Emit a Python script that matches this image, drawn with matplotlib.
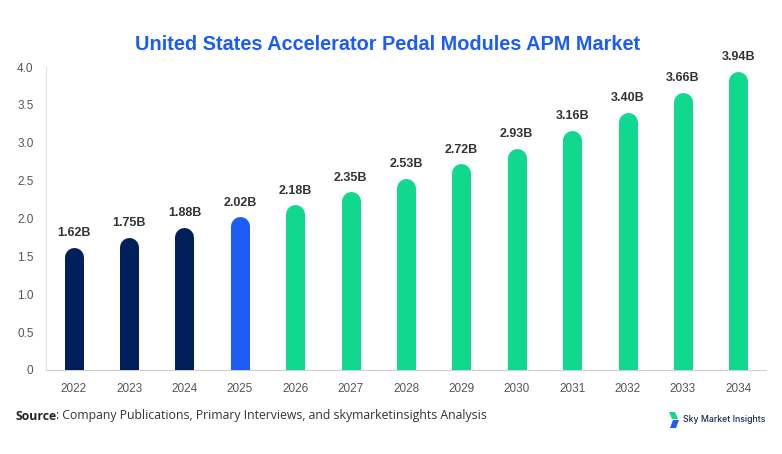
import matplotlib
matplotlib.use("Agg")
import matplotlib.pyplot as plt
from matplotlib.patches import Polygon

years = ["2022", "2023", "2024", "2025", "2026", "2027", "2028",
         "2029", "2030", "2031", "2032", "2033", "2034"]
values = [1.62, 1.75, 1.88, 2.02, 2.18, 2.35, 2.53, 2.72, 2.93, 3.16, 3.40, 3.66, 3.94]
kinds = ["hist", "hist", "hist", "base", "fc", "fc", "fc", "fc", "fc", "fc", "fc", "fc", "fc"]
yticks = [0, 0.5, 1.0, 1.5, 2.0, 2.5, 3.0, 3.5, 4.0]
ytick_labels = ["0", "0.5", "1.0", "1.5", "2.0", "2.5", "3.0", "3.5", "4.0"]

colors = {"hist": "#001f5b", "base": "#1f5cf6", "fc": "#11d88f"}

plt.rcParams["font.family"] = ["Liberation Sans", "DejaVu Sans"]

fig = plt.figure(figsize=(7.82, 4.54), dpi=100)
ax = fig.add_axes([46 / 782, 84 / 454, 720 / 782, 303 / 454])

ax.set_xlim(-0.5, len(years) - 0.5)
ax.set_ylim(0, 4.0)

bar_px = 19
bar_pt = bar_px * 72 / 100
# radius of the round cap in data units
px_per_unit = 303 / 4.0
r = (bar_px / 2) / px_per_unit

for i, (v, k) in enumerate(zip(values, kinds)):
    ax.plot([i, i], [-1, v - r], color=colors[k], linewidth=bar_pt,
            solid_capstyle="round", zorder=3)
    ax.annotate(f"{v:.2f}B", (i, v), xytext=(0, 6), textcoords="offset points",
                ha="center", va="bottom", fontsize=9, fontweight="bold",
                color="#333333")

ax.set_xticks(range(len(years)))
ax.set_xticklabels(years)
ax.set_yticks(yticks)
ax.set_yticklabels(ytick_labels)
ax.tick_params(axis="both", length=0, labelsize=8.5, labelcolor="#555555")
ax.tick_params(axis="x", pad=9)
ax.tick_params(axis="y", pad=9)

for s in ["top", "right"]:
    ax.spines[s].set_visible(False)
ax.spines["left"].set_color("#e3e3e3")
ax.spines["bottom"].set_color("#d0d0d0")

fig.text(388 / 782, 1 - 45 / 454, "United States Accelerator Pedal Modules APM Market",
         ha="center", va="center", fontsize=14.3, fontweight="bold", color="#1a5cf5")

# source line: bold "Source" followed by regular text
src = fig.text(15 / 782, 1 - 416 / 454, "Source", ha="left", va="center",
               fontsize=8.8, fontweight="bold", color="#222222", family="Open Sans")
renderer = fig.canvas.get_renderer()
bb = src.get_window_extent(renderer)
fig.text(bb.x1 / fig.bbox.width, 1 - 416 / 454,
         ": Company Publications, Primary Interviews, and skymarketinsights Analysis",
         ha="left", va="center", fontsize=8.8, color="#333333", family="Open Sans")

# logo
def px(x, y):
    return (x / 782, 1 - y / 454)

fig.patches.append(Polygon([px(669, 412), px(675, 412), px(678, 419), px(672, 419)],
                           closed=True, transform=fig.transFigure,
                           facecolor="#11d88f", edgecolor="none"))
fig.patches.append(Polygon([px(673, 420), px(679, 420), px(676, 428), px(670, 428)],
                           closed=True, transform=fig.transFigure,
                           facecolor="#1f5cf6", edgecolor="none"))
fig.text(683 / 782, 1 - 420 / 454, "Sky Market Insights", ha="left", va="center",
         fontsize=6.3, fontweight="medium", color="#1b2a4a", family="Inter")

fig.savefig("out.png", dpi=100)
